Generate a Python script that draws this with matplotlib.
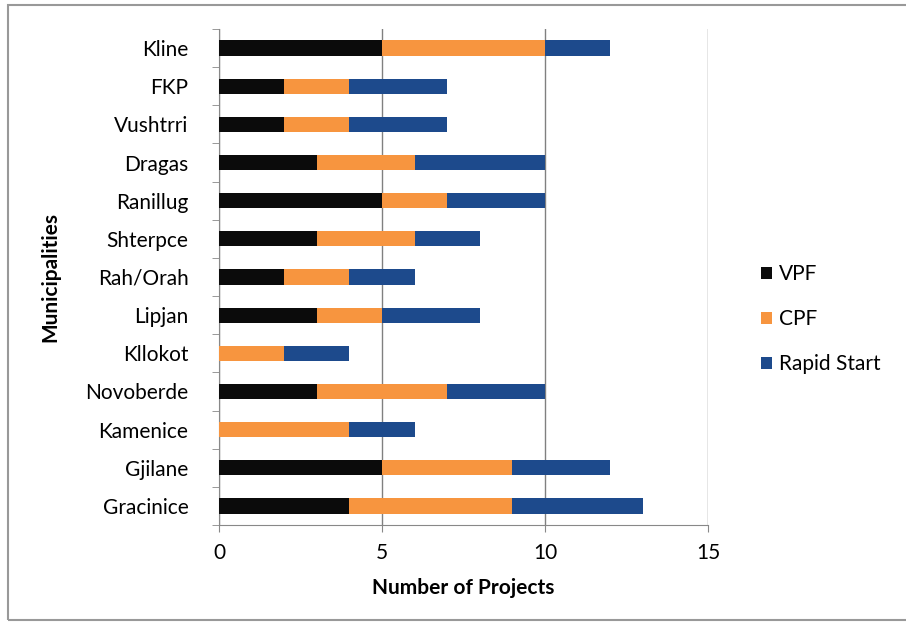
import matplotlib
matplotlib.use("Agg")
import matplotlib.pyplot as plt
from matplotlib.patches import Rectangle
import numpy as np

plt.rcParams['font.family'] = ['Lato', 'DejaVu Sans']

municipalities = ["Kline", "FKP", "Vushtrri", "Dragas", "Ranillug", "Shterpce",
                  "Rah/Orah", "Lipjan", "Kllokot", "Novoberde", "Kamenice",
                  "Gjilane", "Gracinice"]
vpf = [5, 2, 2, 3, 5, 3, 2, 3, 0, 3, 0, 5, 4]
cpf = [5, 2, 2, 3, 2, 3, 2, 2, 2, 4, 4, 4, 5]
rapid = [2, 3, 3, 4, 3, 2, 2, 3, 2, 3, 2, 3, 4]
series_names = ["VPF", "CPF", "Rapid Start"]
colors = ["#0b0b0b", "#f7953f", "#1d4a8c"]
xticks = [0, 5, 10, 15]

FS = 15

fig = plt.figure(figsize=(9.06, 6.25), dpi=100)
ax = fig.add_axes([219/906, 1-525/625, (708-219)/906, (525-29)/625])

y = np.arange(len(municipalities))
left = np.zeros(len(municipalities))
for vals, name, c in zip([vpf, cpf, rapid], series_names, colors):
    ax.barh(y, vals, left=left, height=0.4, color=c, label=name, zorder=3)
    left += np.array(vals)

ax.set_ylim(len(municipalities) - 0.5, -0.5)
ax.set_xlim(0, 15)
ax.set_yticks(y)
ax.set_yticklabels(municipalities, fontsize=FS)
ax.set_yticks(np.arange(-0.5, len(municipalities), 1), minor=True)
ax.tick_params(axis='y', which='major', length=0, pad=22)
ax.tick_params(axis='y', which='minor', length=5, color='#888888')
ax.set_xticks(xticks)
ax.set_xticklabels([str(t) for t in xticks], fontsize=FS)
ax.tick_params(axis='x', length=5, color='#888888', pad=8)

ax.grid(axis='x', color='#808080', linewidth=1, zorder=0)
for s in ['top', 'right']:
    ax.spines[s].set_visible(False)
for s in ['left', 'bottom']:
    ax.spines[s].set_color('#888888')

ax.set_xlabel("Number of Projects", fontsize=FS, fontweight='bold', labelpad=11)
ax.set_ylabel("Municipalities", fontsize=FS, fontweight='bold', labelpad=18)

leg = ax.legend(loc='center left', bbox_to_anchor=(1.07, 0.415), frameon=False,
                fontsize=FS, handlelength=0.55, handleheight=0.55,
                handletextpad=0.3, labelspacing=1.2)

fig.patches.append(Rectangle((8/906, 5/625), 1.0, 615/625, transform=fig.transFigure,
                             fill=False, edgecolor='#999999', linewidth=1.5))

fig.savefig("out.png", dpi=100)
